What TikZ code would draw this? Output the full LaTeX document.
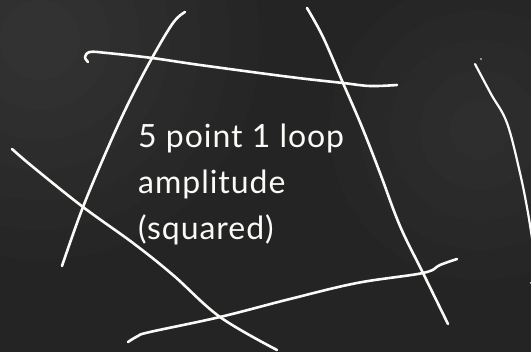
\documentclass[tikz,border=0pt]{standalone}
\usepackage{fontspec}
\setmainfont{Lato}[LetterSpace=3]
\definecolor{board}{RGB}{36,36,36}
\definecolor{chalk}{RGB}{250,250,247}
\begin{document}
\begin{tikzpicture}[x=1pt,y=-1pt,
  chalkline/.style={draw=chalk,line width=2.6pt,line cap=round,line join=round},
  chalktext/.style={text=chalk,font=\fontsize{32}{46}\selectfont,align=left,inner sep=0pt}]
\useasboundingbox (0,0) rectangle (531,352);
\clip (0,0) rectangle (531,352);
\fill[board] (0,0) rectangle (531,352);
\foreach \r in {40,70,...,220} \fill[white,opacity=0.012] (40,40) circle (\r);
\foreach \r in {30,60,...,150} \fill[white,opacity=0.01] (480,130) circle (\r);
% left upper stroke
\draw[chalkline] plot[smooth,tension=0.6] coordinates {(185,12) (173,23) (152,58) (130,100) (110,143) (83,207) (62,266)};
% top stroke with hook
\draw[chalkline] plot[smooth,tension=0.6] coordinates {(88,62) (85,57) (90,52) (107,53) (152,58) (200,65) (290,77) (343,83) (370,86) (397,85)};
% right upper stroke
\draw[chalkline] plot[smooth,tension=0.6] coordinates {(307,8) (323,37) (343,83) (362,127) (380,173) (400,226) (423,273) (448,324)};
% bottom stroke
\draw[chalkline] plot[smooth,tension=0.6] coordinates {(128,342) (138,336) (150,332) (220,317) (290,299) (357,283) (423,273) (440,265) (457,259)};
% left lower stroke
\draw[chalkline] plot[smooth,tension=0.6] coordinates {(12,149) (33,167) (83,207) (133,243) (173,275) (220,317) (277,350)};
% far right stroke
\draw[chalkline,line width=2.2pt] plot[smooth,tension=0.6] coordinates {(475,64) (491,94) (507,123) (520,173) (528,213) (533,245)};
\fill[chalk] (481,59) circle (0.9);
\fill[chalk] (531,283) circle (1);
\node[chalktext,anchor=base west] (label) at (138,240) {5 point 1 loop\\amplitude\\(squared)};
\end{tikzpicture}
\end{document}
